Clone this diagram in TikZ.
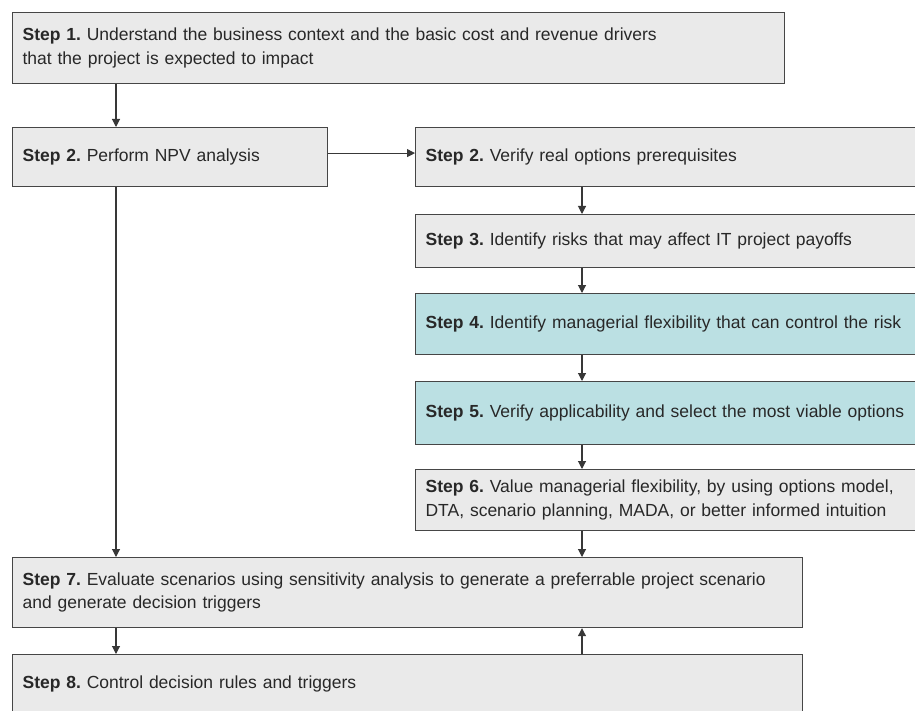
\documentclass[tikz,border=0pt]{standalone}
\usepackage{fontspec}
\setmainfont{Liberation Sans}
\usepackage{tikz}
\usetikzlibrary{arrows.meta, positioning}
\definecolor{stepgray}{RGB}{234,234,234}
\definecolor{stepteal}{RGB}{187,224,227}
\definecolor{edgegray}{RGB}{70,70,70}
\definecolor{txtdark}{RGB}{40,40,40}
\tikzset{
  stepbox/.style={rectangle, draw=edgegray, fill=stepgray, anchor=north west,
    align=left, inner xsep=10pt, inner ysep=0pt, line width=1.2pt,
    font=\fontsize{17.5}{23.5}\selectfont, text=txtdark},
  tealbox/.style={stepbox, fill=stepteal},
  arrow/.style={-{Triangle[width=8pt,length=8pt]}, line width=1.1pt, color=edgegray!80!black}
}
\frenchspacing
\begin{document}
\begin{tikzpicture}[x=1pt, y=-1pt]
  \useasboundingbox (0,0) rectangle (915,711);
  \clip (0,0) rectangle (915,711);

  % Left column
  \node[stepbox, text width=752, minimum height=71] (s1) at (12,12)
    {\textbf{Step 1.} Understand the business context and the basic cost and revenue drivers\\
     that the project is expected to impact};
  \node[stepbox, text width=295, minimum height=59] (s2) at (12,127)
    {\textbf{Step 2.} Perform NPV analysis};

  % Right column
  \node[stepbox, text width=485, minimum height=59] (s2r) at (415,127)
    {\textbf{Step 2.} Verify real options prerequisites};
  \node[stepbox, text width=485, minimum height=53] (s3) at (415,214)
    {\textbf{Step 3.} Identify risks that may affect IT project payoffs};
  \node[tealbox, text width=485, minimum height=61] (s4) at (415,293)
    {\textbf{Step 4.} Identify managerial flexibility that can control the risk};
  \node[tealbox, text width=485, minimum height=63] (s5) at (415,381)
    {\textbf{Step 5.} Verify applicability and select the most viable options};
  \node[stepbox, text width=485, minimum height=61] (s6) at (415,469)
    {\textbf{Step 6.} Value managerial flexibility, by using options model,\\
     DTA, scenario planning, MADA, or better informed intuition};

  % Bottom rows
  \node[stepbox, text width=770, minimum height=70] (s7) at (12,557)
    {\textbf{Step 7.} Evaluate scenarios using sensitivity analysis to generate a preferrable project scenario\\
     and generate decision triggers};
  \node[stepbox, text width=770, minimum height=59] (s8) at (12,654)
    {\textbf{Step 8.} Control decision rules and triggers};

  % Arrow columns
  \coordinate (lx) at (116,0);
  \coordinate (rx) at (582,0);

  \draw[arrow] (s1.south -| lx) -- (s2.north -| lx);
  \draw[arrow] ([yshift=4pt]s2.east) -- ([yshift=4pt]s2.east -| s2r.west);
  \draw[arrow] (s2.south -| lx) -- (s7.north -| lx);
  \draw[arrow] (s2r.south -| rx) -- (s3.north -| rx);
  \draw[arrow] (s3.south -| rx) -- (s4.north -| rx);
  \draw[arrow] (s4.south -| rx) -- (s5.north -| rx);
  \draw[arrow] (s5.south -| rx) -- (s6.north -| rx);
  \draw[arrow] (s6.south -| rx) -- (s7.north -| rx);
  \draw[arrow] (s7.south -| lx) -- (s8.north -| lx);
  \draw[arrow] (s8.north -| rx) -- (s7.south -| rx);
\end{tikzpicture}
\end{document}
